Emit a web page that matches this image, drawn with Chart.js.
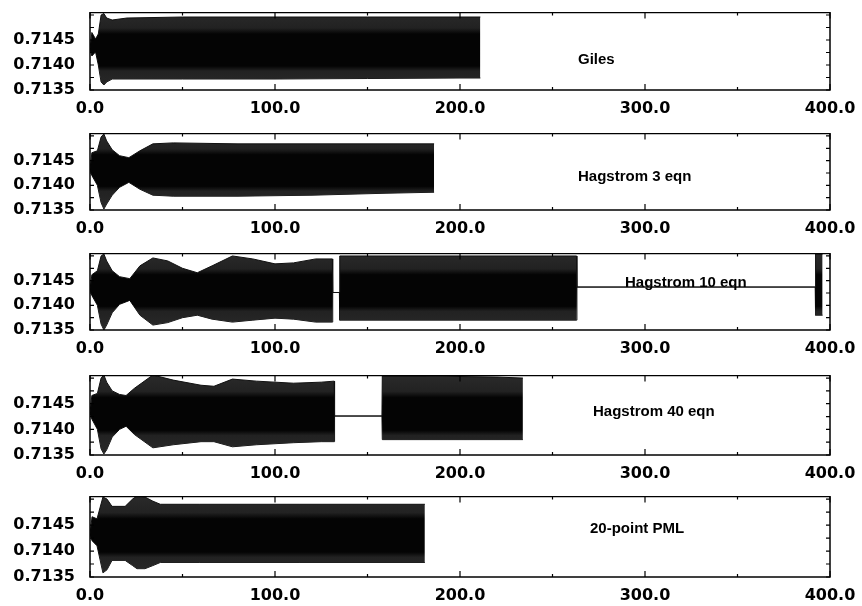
<!DOCTYPE html>
<html>
<head>
<meta charset="utf-8">
<script src="https://cdn.jsdelivr.net/npm/chart.js@4.4.1/dist/chart.umd.min.js"></script>
<style>
  body { margin: 0; background: #fff; }
  #wrap { position: relative; width: 862px; height: 606px; overflow: hidden; }
  #wrap canvas { position: absolute; left: 0; }
  .lbl { position: absolute; font: bold 15px "Liberation Sans", Arial, sans-serif; color: #000; white-space: nowrap; line-height: 18px; }
</style>
</head>
<body>
<div id="wrap"></div>
<script>
// tick labels
const xTicks = [0, 100, 200, 300, 400];
const xMinor = [50, 150, 250, 350];
const yTicks = [0.7135, 0.7140, 0.7145];
const yMinor = [0.71375, 0.71425, 0.71475, 0.7150];

// Giles
const gilesX  = [0, 1, 3, 4.5, 6, 7.5, 9, 12, 20, 50, 100, 150, 200, 211];
const gilesHi = [0.71432, 0.71465, 0.71452, 0.71462, 0.71500, 0.71503, 0.71494, 0.71490, 0.71494, 0.71496, 0.71496, 0.71496, 0.71496, 0.71496];
const gilesLo = [0.71432, 0.71418, 0.71426, 0.71400, 0.71366, 0.71360, 0.71366, 0.71372, 0.71372, 0.71372, 0.71372, 0.71373, 0.71374, 0.71374];

// Hagstrom 3 eqn
const h3X  = [0, 1, 4, 6, 7.5, 9, 12, 16, 21, 27, 34, 45, 80, 120, 160, 186];
const h3Hi = [0.71432, 0.71466, 0.71470, 0.71498, 0.71504, 0.71490, 0.71472, 0.71460, 0.71456, 0.71470, 0.71484, 0.71486, 0.71484, 0.71484, 0.71484, 0.71484];
const h3Lo = [0.71432, 0.71420, 0.71400, 0.71365, 0.71352, 0.71362, 0.71380, 0.71396, 0.71406, 0.71392, 0.71380, 0.71378, 0.71378, 0.71380, 0.71384, 0.71386];

// Hagstrom 10 eqn
const h10X  = [0, 1, 4, 6, 7.5, 9, 12, 16, 21.5, 27, 34, 42, 50, 58, 66, 77, 88, 100, 110, 122, 131,
               131.2, 134.8, 135, 160, 200, 240, 263, 263.2, 392, 392.2, 396];
const h10Hi = [0.71432, 0.71462, 0.71470, 0.71500, 0.71504, 0.71490, 0.71470, 0.71458, 0.71454, 0.71480, 0.71496, 0.71490, 0.71475, 0.71466, 0.71480, 0.71500, 0.71494, 0.71484, 0.71486, 0.71494, 0.71494,
               0.71426, 0.71426, 0.71500, 0.71500, 0.71500, 0.71500, 0.71500, 0.71437, 0.71437, 0.71504, 0.71504];
const h10Lo = [0.71432, 0.71420, 0.71400, 0.71362, 0.71350, 0.71360, 0.71385, 0.71402, 0.71410, 0.71380, 0.71360, 0.71365, 0.71375, 0.71380, 0.71372, 0.71366, 0.71370, 0.71374, 0.71372, 0.71366, 0.71366,
               0.71426, 0.71426, 0.71370, 0.71370, 0.71370, 0.71370, 0.71370, 0.71437, 0.71437, 0.71380, 0.71380];

// Hagstrom 40 eqn
const h40X  = [0, 1, 4, 6, 7.5, 9, 12, 16, 19.5, 24, 34, 45, 60, 67, 77, 90, 110, 125, 132,
               132.2, 157.8, 158, 180, 200, 220, 234];
const h40Hi = [0.71432, 0.71466, 0.71470, 0.71500, 0.71506, 0.71492, 0.71475, 0.71468, 0.71466, 0.71480, 0.71506, 0.71496, 0.71486, 0.71484, 0.71498, 0.71494, 0.71490, 0.71492, 0.71494,
               0.71426, 0.71426, 0.71504, 0.71504, 0.71503, 0.71502, 0.71500];
const h40Lo = [0.71432, 0.71420, 0.71400, 0.71362, 0.71352, 0.71360, 0.71385, 0.71400, 0.71406, 0.71390, 0.71364, 0.71370, 0.71376, 0.71376, 0.71366, 0.71370, 0.71374, 0.71376, 0.71376,
               0.71426, 0.71426, 0.71380, 0.71380, 0.71380, 0.71380, 0.71380];

// 20-point PML
const pmlX  = [0, 1.1, 3.8, 7, 9.2, 11.9, 19, 23, 25.4, 29.7, 34, 38, 59, 113, 181];
const pmlHi = [0.71432, 0.71466, 0.71462, 0.71504, 0.71500, 0.71486, 0.71486, 0.71500, 0.71506, 0.71504, 0.71496, 0.71490, 0.71490, 0.71490, 0.71490];
const pmlLo = [0.71432, 0.71420, 0.71410, 0.71358, 0.71364, 0.71382, 0.71382, 0.71372, 0.71366, 0.71366, 0.71372, 0.71378, 0.71378, 0.71378, 0.71378];

const panels = [
  { name: 'Giles',           x: gilesX, hi: gilesHi, lo: gilesLo, top: 12,  h: 78, lx: 578, ly: 59 },
  { name: 'Hagstrom 3 eqn',  x: h3X,    hi: h3Hi,    lo: h3Lo,    top: 133, h: 77, lx: 578, ly: 176 },
  { name: 'Hagstrom 10 eqn', x: h10X,   hi: h10Hi,   lo: h10Lo,   top: 253, h: 77, lx: 625, ly: 282 },
  { name: 'Hagstrom 40 eqn', x: h40X,   hi: h40Hi,   lo: h40Lo,   top: 375, h: 80, lx: 593, ly: 411 },
  { name: '20-point PML',    x: pmlX,   hi: pmlHi,   lo: pmlLo,   top: 496, h: 81, lx: 590, ly: 528 }
];

const tickFont = { family: '"DejaVu Sans", sans-serif', size: 16, weight: 'bold' };
const AXIS_H = 31;

// dense core is solid, the hatched outer rows of the band read a bit lighter
function bandFill(context) {
  const chart = context.chart;
  const a = chart.chartArea;
  if (!a) return '#000';
  const y = chart.scales.y;
  const frac = v => Math.min(1, Math.max(0, (y.getPixelForValue(v) - a.top) / (a.bottom - a.top)));
  const g = chart.ctx.createLinearGradient(0, a.top, 0, a.bottom);
  g.addColorStop(0, '#2a2a2a');
  g.addColorStop(frac(0.71474), '#222');
  g.addColorStop(frac(0.71462), '#040404');
  g.addColorStop(frac(0.71398), '#040404');
  g.addColorStop(frac(0.71388), '#222');
  g.addColorStop(1, '#2a2a2a');
  return g;
}

// box frame + inward ticks
const framePlugin = {
  id: 'frame',
  afterDraw(chart) {
    const { ctx, chartArea: a, scales } = chart;
    ctx.save();
    ctx.strokeStyle = '#000';
    ctx.lineWidth = 1.5;
    ctx.strokeRect(a.left, a.top, a.right - a.left, a.bottom - a.top);
    ctx.lineWidth = 1.2;
    ctx.beginPath();
    xTicks.concat(xMinor).forEach(v => {
      const px = scales.x.getPixelForValue(v);
      const len = xTicks.includes(v) ? 6 : 3;
      ctx.moveTo(px, a.bottom); ctx.lineTo(px, a.bottom - len);
      ctx.moveTo(px, a.top); ctx.lineTo(px, a.top + len);
    });
    yTicks.concat(yMinor).forEach(v => {
      const py = scales.y.getPixelForValue(v);
      if (py < a.top + 1) return;
      ctx.moveTo(a.left, py); ctx.lineTo(a.left + 4, py);
      ctx.moveTo(a.right, py); ctx.lineTo(a.right - 4, py);
    });
    ctx.stroke();
    ctx.restore();
  }
};

const wrap = document.getElementById('wrap');

panels.forEach(p => {
  const cv = document.createElement('canvas');
  cv.width = 862; cv.height = p.h + 12 + AXIS_H;
  wrap.appendChild(cv);

  const lbl = document.createElement('div');
  lbl.className = 'lbl';
  lbl.textContent = p.name;
  lbl.style.left = p.lx + 'px';
  lbl.style.top = (p.ly - 9) + 'px';
  wrap.appendChild(lbl);

  const chart = new Chart(cv, {
    type: 'line',
    data: {
      datasets: [
        {
          data: p.x.map((x, i) => ({ x: x, y: p.hi[i] })),
          borderColor: '#111', backgroundColor: bandFill, borderWidth: 1,
          pointRadius: 0, tension: 0, fill: '+1'
        },
        {
          data: p.x.map((x, i) => ({ x: x, y: p.lo[i] })),
          borderColor: '#111', borderWidth: 1,
          pointRadius: 0, tension: 0, fill: false
        }
      ]
    },
    options: {
      responsive: false,
      maintainAspectRatio: false,
      animation: false,
      layout: { padding: { top: 0, right: 32, left: 0, bottom: 0 } },
      plugins: { legend: { display: false }, tooltip: { enabled: false } },
      scales: {
        x: {
          type: 'linear', min: 0, max: 400,
          grid: { display: false, drawTicks: false },
          border: { display: false },
          afterBuildTicks: s => { s.ticks = xTicks.map(v => ({ value: v })); },
          afterFit: s => { s.height = AXIS_H; s.paddingLeft = 0; s.paddingRight = 0; },
          ticks: { color: '#000', font: tickFont, padding: 9, maxRotation: 0,
                   callback: v => Number(v).toFixed(1) }
        },
        y: {
          min: 0.7135, max: 0.71505,
          grid: { display: false, drawTicks: false },
          border: { display: false },
          afterBuildTicks: s => { s.ticks = yTicks.map(v => ({ value: v })); },
          afterFit: s => { s.width = 90; s.paddingTop = 0; s.paddingBottom = 0; },
          ticks: { color: '#000', font: tickFont, padding: 15,
                   callback: v => Number(v).toFixed(4) }
        }
      }
    },
    plugins: [framePlugin]
  });

  // size the canvas so the plot box lands where the reference has it
  const t0 = chart.chartArea.top;
  chart.resize(862, t0 + p.h + AXIS_H);
  cv.style.top = (p.top - chart.chartArea.top) + 'px';
});
</script>
</body>
</html>
